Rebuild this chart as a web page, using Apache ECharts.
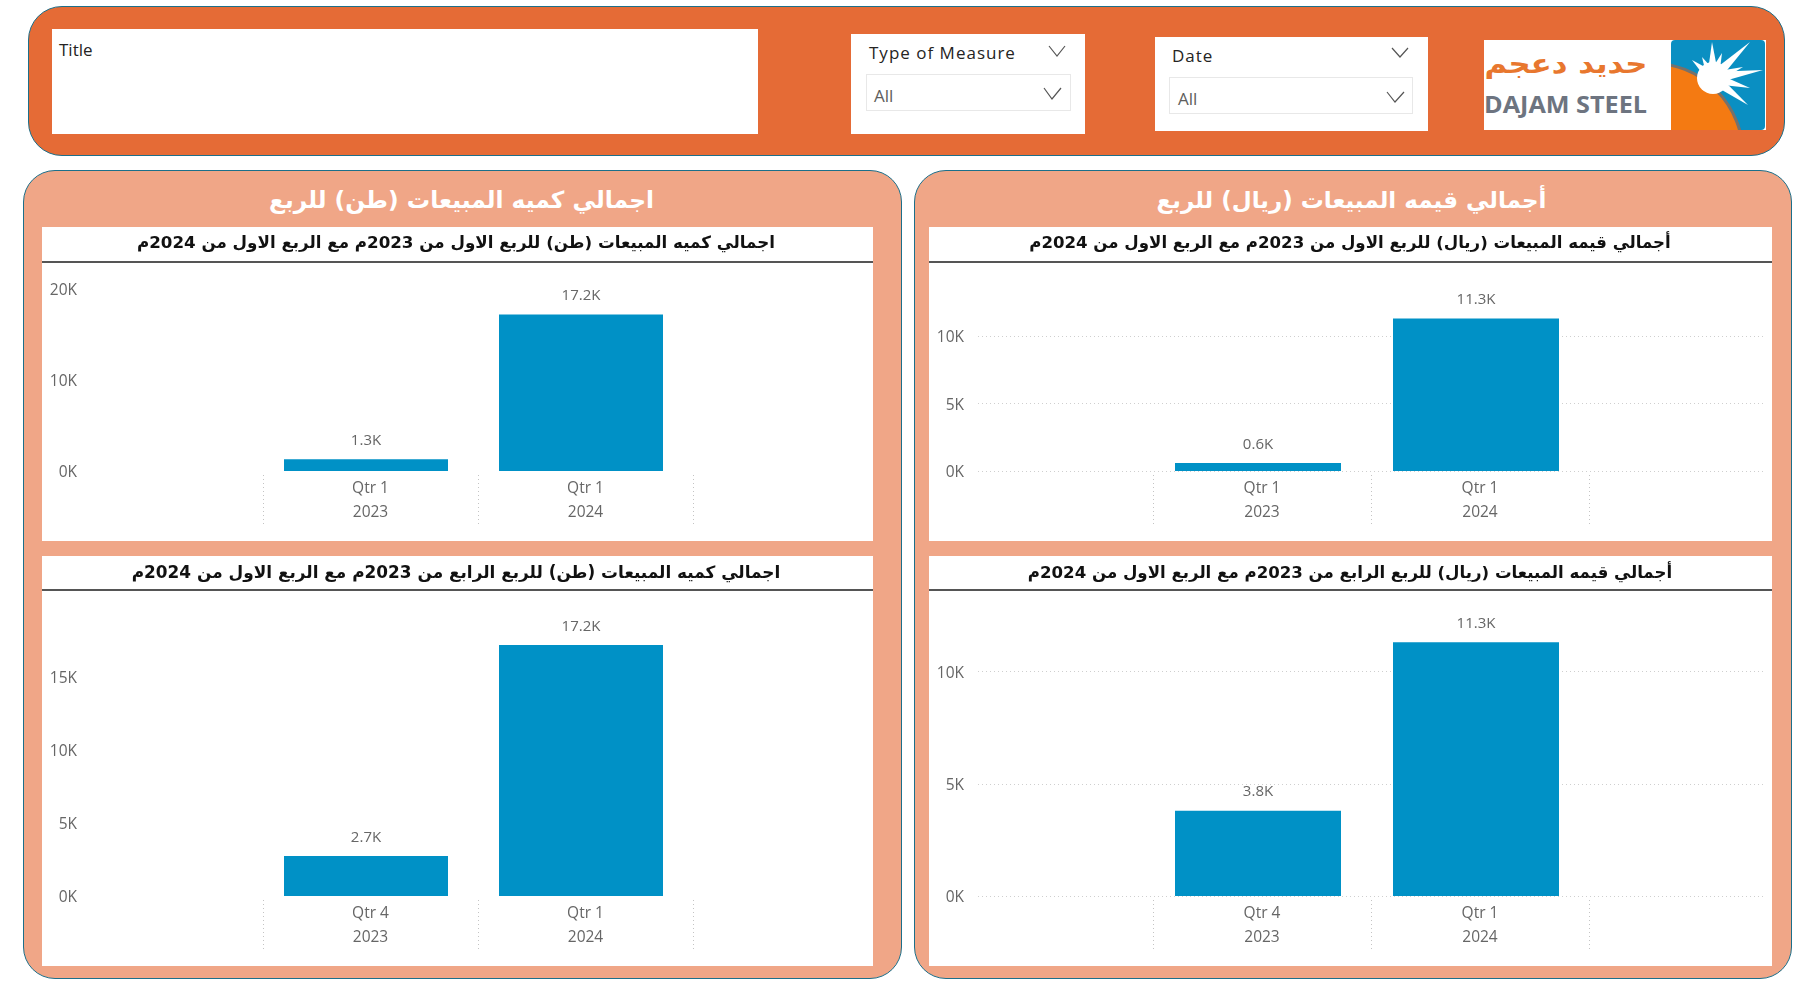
<!DOCTYPE html>
<html lang="ar">
<head>
<meta charset="utf-8">
<title>Dajam Steel</title>
<script src="https://cdn.jsdelivr.net/npm/echarts@6/dist/echarts.min.js"></script>
<style>
  html, body { margin: 0; padding: 0; background: #fff; width: 1809px; height: 987px; overflow: hidden; font-family: "Open Sans", sans-serif; }
  .box { position: absolute; box-sizing: border-box; }
  .top_panel { left: 28px; top: 6px; width: 1757px; height: 150px; background: #e56b36; border: 1.5px solid #1c6f8a; border-radius: 34px; }
  .panel { top: 170px; height: 809px; background: #f0a687; border: 1.5px solid #1c6f8a; border-radius: 32px; }
  .white { background: #fff; }
  .txt { position: absolute; white-space: nowrap; color: #252423; }
  .head { position: absolute; top: 181px; font-family: "DejaVu Sans", sans-serif; font-size: 23.3px; line-height: 38px; color: #fff; text-align: center; direction: rtl; font-weight: bold; }
  .inner { border: 1.5px solid #e8e8e8; background: #fff; }
  svg { position: absolute; }
</style>
</head>
<body>
  <div class="box top_panel"></div>
  <div class="box white" style="left:52px;top:29px;width:706px;height:105px"></div>
  <div class="txt" style="left:59px;top:38px;font-size:17px">Title</div>

  <div class="box white" style="left:851px;top:34px;width:234px;height:100px"></div>
  <div class="txt" style="left:869px;top:41px;font-size:17px;letter-spacing:1px">Type of Measure</div>
  <div class="box inner" style="left:866px;top:74px;width:205px;height:37px"></div>
  <div class="txt" style="left:874px;top:84px;font-size:17px;color:#605e5c">All</div>

  <div class="box white" style="left:1155px;top:37px;width:273px;height:94px"></div>
  <div class="txt" style="left:1172px;top:44px;font-size:17px;letter-spacing:1px">Date</div>
  <div class="box inner" style="left:1169px;top:77px;width:244px;height:37px"></div>
  <div class="txt" style="left:1178px;top:87px;font-size:17px;color:#605e5c">All</div>

  <svg style="left:0;top:0" width="1809" height="160" fill="none" stroke="#555" stroke-width="1.2">
    <polyline points="1049,46 1057,56 1065,46"/>
    <polyline points="1044,88 1052,99 1061,88"/>
    <polyline points="1392,48 1400,57 1408,48"/>
    <polyline points="1387,92 1395,102 1404,92"/>
  </svg>

  <!-- logo -->
  <div class="box white" style="left:1484px;top:40px;width:282px;height:90px"></div>
  <svg style="left:1484px;top:40px" width="188" height="90">
    <text x="82" y="33" text-anchor="middle" textLength="163" lengthAdjust="spacingAndGlyphs" font-family="DejaVu Sans" font-size="27" font-weight="bold" fill="#e8772e">حديد دعجم</text>
    <text x="0" y="73" textLength="163" lengthAdjust="spacingAndGlyphs" font-family="Open Sans" font-size="24" font-weight="bold" fill="#6d7480">DAJAM STEEL</text>
  </svg>
  <svg id="logo_icon" style="left:1671px;top:40px" width="94" height="90" viewBox="0 0 94 90"></svg>

  <div class="box panel" style="left:23px;width:879px"></div>
  <div class="box panel" style="left:914px;width:878px"></div>
  <div class="head" style="left:46px;width:831px">اجمالي كميه المبيعات (طن) للربع</div>
  <div class="head" style="left:930px;width:843px;font-size:23px">أجمالي قيمه المبيعات (ريال) للربع</div>

  <div id="chart_tl" class="box" style="left:42px;top:227px;width:831px;height:314px"></div>
  <div id="chart_tr" class="box" style="left:929px;top:227px;width:843px;height:314px"></div>
  <div id="chart_bl" class="box" style="left:42px;top:556px;width:831px;height:410px"></div>
  <div id="chart_br" class="box" style="left:929px;top:556px;width:843px;height:410px"></div>

<script>
// 数据
var quarters_q1 = ['Qtr 1', 'Qtr 1']
var quarters_q4 = ['Qtr 4', 'Qtr 1']
var years = ['2023', '2024']

var tonsQ1 = [1300, 17200]
var tonsQ4 = [2740, 17200]
var riyalQ1 = [600, 11300]
var riyalQ4 = [3800, 11300]

var titleTonsQ1 = 'اجمالي كميه المبيعات (طن) للربع الاول من 2023م مع الربع الاول من 2024م'
var titleTonsQ4 = 'اجمالي كميه المبيعات (طن) للربع الرابع من 2023م مع الربع الاول من 2024م'
var titleRiyalQ1 = 'أجمالي قيمه المبيعات (ريال) للربع الاول من 2023م مع الربع الاول من 2024م'
var titleRiyalQ4 = 'أجمالي قيمه المبيعات (ريال) للربع الرابع من 2023م مع الربع الاول من 2024م'

var font = '"Open Sans", sans-serif'
var barColor = '#0091c6'

function kLabel(v) {
  return '{t|' + (v / 1000) + 'K}'
}

// 三个 grid: 宽的放 y 轴, 一个放 x 轴标签, 一个放柱子
function drawChart(o) {
  var chart = echarts.init(document.getElementById(o.id))
  var h = o.bottom - o.top
  var cats = []
  for (var i = 0; i < o.quarters.length; i++) {
    cats.push(o.quarters[i] + '\n' + years[i])
  }
  var yBase = { type: 'value', min: 0, max: o.max, interval: o.interval, show: false }

  chart.setOption({
    animation: false,
    backgroundColor: '#fff',
    title: {
      text: o.title,
      left: o.titleX,
      top: o.titleY,
      textAlign: 'center',
      textVerticalAlign: 'middle',
      textStyle: { fontFamily: '"DejaVu Sans", sans-serif', fontSize: o.titleSize, fontWeight: 'bold', color: '#111' }
    },
    graphic: [{
      type: 'rect',
      shape: { x: 0, y: o.ruleY, width: o.width, height: 2 },
      style: { fill: '#555' }
    }],
    grid: [
      { left: o.wideLeft, width: o.wideWidth, top: o.top, height: h },
      { left: o.catLeft, width: o.catWidth * 2, top: o.top, height: h + 4 },
      { left: o.catLeft + o.barShift, width: o.catWidth * 2, top: o.top, height: h }
    ],
    xAxis: [
      { type: 'category', gridIndex: 0, data: cats, show: false },
      {
        type: 'category',
        gridIndex: 1,
        data: cats,
        axisLine: { show: false },
        axisTick: {
          show: true,
          interval: 0,
          length: 51,
          lineStyle: { color: '#c4c4c4', type: [1, 3] }
        },
        axisLabel: { interval: 0, margin: 2, fontFamily: font, fontSize: 15.5, color: '#666', lineHeight: 24 }
      },
      { type: 'category', gridIndex: 2, data: cats, show: false }
    ],
    yAxis: [
      {
        type: 'value',
        gridIndex: 0,
        min: 0,
        max: o.max,
        interval: o.interval,
        axisLine: { show: false },
        axisTick: { show: false },
        axisLabel: {
          margin: 14,
          showMaxLabel: o.showMax,
          formatter: kLabel,
          rich: {
            t: { padding: [4, 0, 0, 0], fontFamily: font, fontSize: 15.5, color: '#666' }
          }
        },
        splitLine: {
          show: o.gridLines,
          showMaxLine: o.showMax,
          lineStyle: { color: '#cfcfcf', type: [1, 3] }
        }
      },
      Object.assign({ gridIndex: 1 }, yBase),
      Object.assign({ gridIndex: 2 }, yBase)
    ],
    series: [{
      type: 'bar',
      xAxisIndex: 2,
      yAxisIndex: 2,
      data: o.values,
      barWidth: o.barWidth,
      itemStyle: { color: barColor },
      label: {
        show: true,
        position: 'top',
        distance: 11,
        formatter: function(p) {
          return (p.value / 1000).toFixed(1) + 'K'
        },
        fontFamily: font,
        fontSize: 15,
        color: '#666'
      }
    }]
  })
}

var leftCol = { width: 831, wideLeft: 49, wideWidth: 770, catLeft: 221, catWidth: 215, barShift: -4.5, barWidth: 164, gridLines: false, titleX: 409 }
var rightCol = { width: 843, wideLeft: 49, wideWidth: 785, catLeft: 224, catWidth: 218, barShift: -4, barWidth: 166, gridLines: true, titleX: 416, titleSize: 16.6 }

drawChart(Object.assign({}, leftCol, {
  id: 'chart_tl', title: titleTonsQ1, quarters: quarters_q1, values: tonsQ1,
  max: 20000, interval: 10000, showMax: true, titleSize: 16.7,
  top: 62, bottom: 244, titleY: 12, ruleY: 34
}))
drawChart(Object.assign({}, rightCol, {
  id: 'chart_tr', title: titleRiyalQ1, quarters: quarters_q1, values: riyalQ1,
  max: 15000, interval: 5000, showMax: false,
  top: 41.5, bottom: 244, titleY: 12, ruleY: 34
}))
drawChart(Object.assign({}, leftCol, {
  id: 'chart_bl', title: titleTonsQ4, quarters: quarters_q4, values: tonsQ4,
  max: 20000, interval: 5000, showMax: false, titleSize: 16.9,
  top: 48, bottom: 340, titleY: 13, ruleY: 33
}))
drawChart(Object.assign({}, rightCol, {
  id: 'chart_br', title: titleRiyalQ4, quarters: quarters_q4, values: riyalQ4,
  max: 15000, interval: 5000, showMax: false,
  top: 3.3, bottom: 340, titleY: 13, ruleY: 33
}))

// logo icon
var tips = [[41, 2], [79, 2], [92, 30], [79, 48], [77, 65], [21, 20], [31, 17], [51, 13], [72, 27]]
var svg = '<rect width="94" height="90" rx="4" fill="#0a8fc2"/>'
svg += '<circle cx="-20" cy="115" r="92" fill="#f47a12" stroke="#77716b" stroke-width="3"/>'
svg += '<circle cx="42" cy="38" r="16" fill="#fff"/>'
for (var t = 0; t < tips.length; t++) {
  var dx = tips[t][0] - 42
  var dy = tips[t][1] - 38
  var len = Math.sqrt(dx * dx + dy * dy)
  var px = -dy / len * 6
  var py = dx / len * 6
  svg += '<polygon fill="#fff" points="' + tips[t][0] + ',' + tips[t][1] + ' ' + (42 + px) + ',' + (38 + py) + ' ' + (42 - px) + ',' + (38 - py) + '"/>'
}
document.getElementById('logo_icon').innerHTML = svg
</script>
</body>
</html>
